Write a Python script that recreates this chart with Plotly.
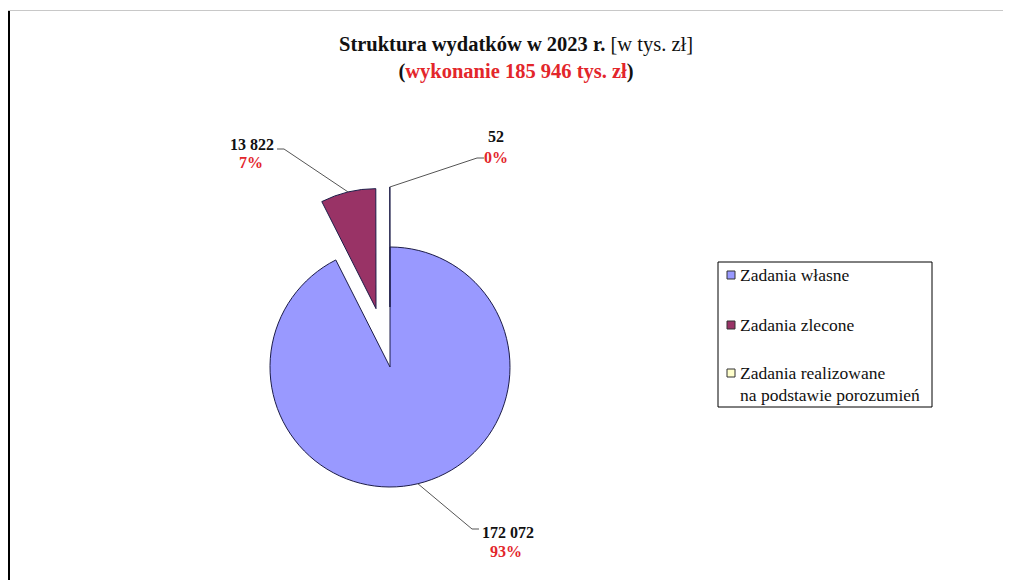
import math
import plotly.graph_objects as go

# ---- data ----
categories = ["Zadania własne", "Zadania zlecone", "Zadania realizowane na podstawie porozumień"]
values = [172072, 13822, 52]
value_labels = ["172 072", "13 822", "52"]
pct_labels = ["93%", "7%", "0%"]
colors = ["#9999FF", "#993366", "#FFFFCC"]
pulls = [0.0, 0.5, 0.5]

W, H = 1011, 580
OFF = 8  # page body margin
RED = "#E3262B"
FONT = "Liberation Serif, Times New Roman, serif"

# pie geometry (screen pixels)
CX, CY, R = 390, 367, 120
half = R * (1 + max(pulls))


def px(x):
    return (x - OFF) / W


def py(y):
    return 1 - (y - OFF) / H


fig = go.Figure()
fig.add_trace(go.Pie(
    labels=categories, values=values, sort=False, direction="clockwise",
    rotation=0, pull=pulls, textinfo="none", hoverinfo="label+value+percent",
    marker=dict(colors=colors, line=dict(color="#1c1c48", width=1)),
    domain=dict(x=[px(CX - half), px(CX + half)], y=[py(CY + half), py(CY - half)]),
    showlegend=False,
))

# leader line anchors computed from data angles
total = sum(values)
cum = 0
anchors = []
for v, p in zip(values, pulls):
    mid = (cum + v / 2) / total * 2 * math.pi
    cum += v
    ox = CX + p * R * math.sin(mid)
    oy = CY - p * R * math.cos(mid)
    anchors.append((ox + R * math.sin(mid), oy - R * math.cos(mid)))

# label layout per slice: elbow (x, y), elbow end x, value text (x, y, anchor), pct text (x, y)
label_layout = [
    ((472, 529), 479, (480, 532, "left"), (506, 551)),
    ((284, 149), 277, (276, 144, "right"), (251, 162)),
    ((477, 158), 484, (496, 137, "center"), (496, 157)),
]

shapes = []
annotations = []
for i, ((ex, ey), ex2, (vx, vy, va), (ptx, pty)) in enumerate(label_layout):
    ax, ay = anchors[i]
    shapes.append(dict(type="path", xref="paper", yref="paper",
                       path=f"M {px(ax)} {py(ay)} L {px(ex)} {py(ey)} L {px(ex2)} {py(ey)}",
                       line=dict(color="#555555", width=1)))
    annotations.append(dict(x=px(vx), y=py(vy), xref="paper", yref="paper", showarrow=False,
                            xanchor=va, yanchor="middle",
                            text=f"<b>{value_labels[i]}</b>",
                            font=dict(family=FONT, size=16, color="#111111")))
    annotations.append(dict(x=px(ptx), y=py(pty), xref="paper", yref="paper", showarrow=False,
                            xanchor="center", yanchor="middle",
                            text=f"<b>{pct_labels[i]}</b>",
                            font=dict(family=FONT, size=16, color=RED)))

# frame lines
shapes.append(dict(type="line", xref="paper", yref="paper", x0=px(9), x1=px(9), y0=py(10), y1=0,
                   line=dict(color="#000000", width=2)))
shapes.append(dict(type="line", xref="paper", yref="paper", x0=px(8), x1=1, y0=py(10.5), y1=py(10.5),
                   line=dict(color="#c8c8c8", width=1)))

# legend (manual)
LX0, LX1, LY0, LY1 = 718, 932, 262, 407
shapes.append(dict(type="rect", xref="paper", yref="paper", x0=px(LX0), x1=px(LX1), y0=py(LY1), y1=py(LY0),
                   line=dict(color="#000000", width=1), fillcolor="white"))
leg_rows = [275, 325, 373]
leg_texts = [["Zadania własne"], ["Zadania zlecone"], ["Zadania realizowane", "na podstawie porozumień"]]
for c, yy, lines in zip(colors, leg_rows, leg_texts):
    shapes.append(dict(type="rect", xref="paper", yref="paper", x0=px(727), x1=px(735),
                       y0=py(yy + 4), y1=py(yy - 4), line=dict(color="#333333", width=1), fillcolor=c))
    for k, t in enumerate(lines):
        annotations.append(dict(x=px(738), y=py(yy + 22 * k), xref="paper", yref="paper", showarrow=False,
                                xanchor="left", yanchor="middle", text=t,
                                font=dict(family=FONT, size=17.5, color="#111111")))

fig.update_layout(
    width=W, height=H, margin=dict(l=0, r=0, t=0, b=0),
    paper_bgcolor="white", plot_bgcolor="white",
    title=dict(text="<b>Struktura wydatków w 2023 r.</b> [w tys. zł]<br>"
                    f"<b>(<span style='color:{RED}'>wykonanie 185 946 tys. zł</span>)</b>",
               x=px(516), xanchor="center", y=py(51), yanchor="top",
               font=dict(family=FONT, size=20.5, color="#111111")),
    shapes=shapes, annotations=annotations,
)

fig.write_html("out.html")
